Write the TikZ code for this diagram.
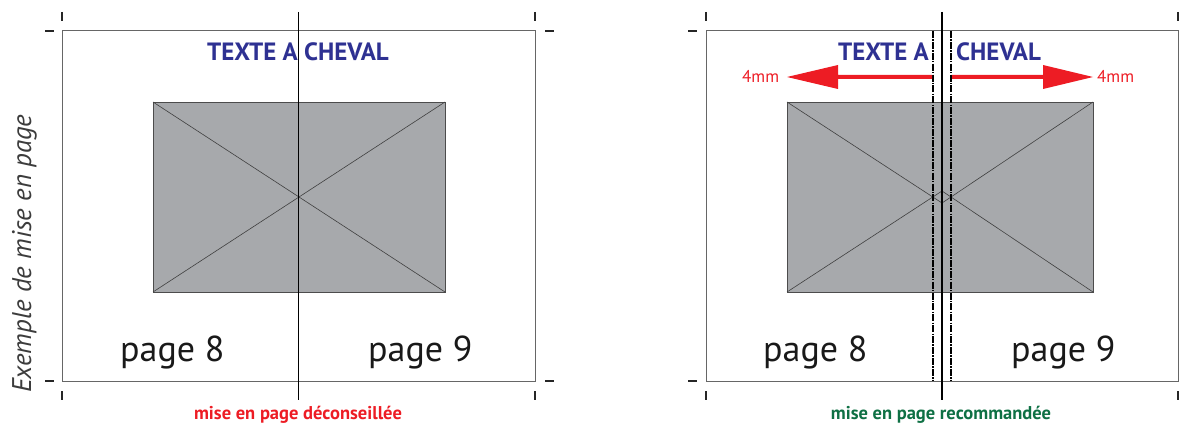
\documentclass[tikz,border=0pt]{standalone}
\usepackage{fontspec}
\setmainfont{PT Sans}
\definecolor{myred}{RGB}{237,28,36}
\definecolor{myblue}{RGB}{46,49,146}
\definecolor{mygreen}{RGB}{14,112,68}
\definecolor{photogray}{RGB}{167,169,172}
\definecolor{labelgray}{RGB}{60,60,60}
\begin{document}
\begin{tikzpicture}[x=1pt,y=-1pt,
  frame/.style={draw=black!60,line width=1pt},
  crop/.style={draw=black!85,line width=1.3pt},
  photo/.style={fill=photogray,draw=black!70,line width=0.9pt},
  diag/.style={draw=black!75,line width=0.6pt},
  fold/.style={draw=black,line width=1pt},
  foldthick/.style={draw=black,line width=1.6pt},
  guide/.style={draw=black,line width=1.3pt,dash pattern=on 7pt off 1.2pt on 1.5pt off 1.2pt},
  headline/.style={text=myblue,font=\fontsize{25}{28}\selectfont\bfseries,inner sep=0pt},
  pagelabel/.style={text=black!90,font=\fontsize{36}{40}\selectfont,inner sep=0pt},
  mm/.style={text=myred,font=\fontsize{17}{20}\selectfont,inner sep=0pt},
  bottomlabel/.style={font=\fontsize{18.5}{21}\selectfont\bfseries,inner sep=0pt,anchor=base},
  redarrow/.style={fill=myred,draw=none}]
\useasboundingbox (0,0) rectangle (1185,427);

% ---------- left panel ----------
\draw[frame] (62,31) rectangle (535,381);
\draw[photo] (153,102) rectangle (445,292);
\draw[diag] (153,102) -- (445,292);
\draw[diag] (153,292) -- (445,102);
\draw[fold] (298,12) -- (298,400);
\node[headline,anchor=base] (hl) at (298,61) {TEXTE A CHEVAL};
\node[pagelabel,anchor=base west] (p8l) at (120,361) {page 8};
\node[pagelabel,anchor=base west] (p9l) at (368,361) {page 9};
\node[bottomlabel,text=myred] (bad) at (298,419) {mise en page déconseillée};

% ---------- right panel ----------
\draw[frame] (706,31) rectangle (1178,381);
\draw[photo] (787,102) rectangle (1093,292);
\draw[diag] (787,102) -- (942,203) -- (1093,102);
\draw[diag] (787,292) -- (942,191) -- (1093,292);
\draw[guide] (933,31) -- (933,381);
\draw[guide] (951,31) -- (951,381);
\draw[foldthick] (942,12) -- (942,400);
\node[headline,anchor=base east] (hr1) at (929,61) {TEXTE A};
\node[headline,anchor=base west] (hr2) at (956,61) {CHEVAL};
\fill[redarrow] (932,75) -- (838,75) -- (838,65) -- (787,77) -- (838,89) -- (838,79) -- (932,79) -- cycle;
\fill[redarrow] (952,75) -- (1043,75) -- (1043,65) -- (1093,77) -- (1043,89) -- (1043,79) -- (952,79) -- cycle;
\node[mm,anchor=west] (mml) at (742,76) {4mm};
\node[mm,anchor=west] (mmr) at (1097,76) {4mm};
\node[pagelabel,anchor=base west] (p8r) at (763,361) {page 8};
\node[pagelabel,anchor=base west] (p9r) at (1011,361) {page 9};
\node[bottomlabel,text=mygreen] (good) at (941,419) {mise en page recommandée};

% ---------- crop marks ----------
\foreach \cx in {62,535,706,1178}{
  \draw[crop] (\cx,12) -- (\cx,21);
  \draw[crop] (\cx,391) -- (\cx,400);
}
\foreach \hx in {45,545,688,1187}{
  \draw[crop] (\hx,31) -- (\hx+9,31);
  \draw[crop] (\hx,381) -- (\hx+9,381);
}

% ---------- vertical label ----------
\node[text=labelgray,font=\fontsize{27}{30}\selectfont\itshape,inner sep=0pt,rotate=90,anchor=base west] (side) at (31,393) {Exemple de mise en page};
\end{tikzpicture}
\end{document}
